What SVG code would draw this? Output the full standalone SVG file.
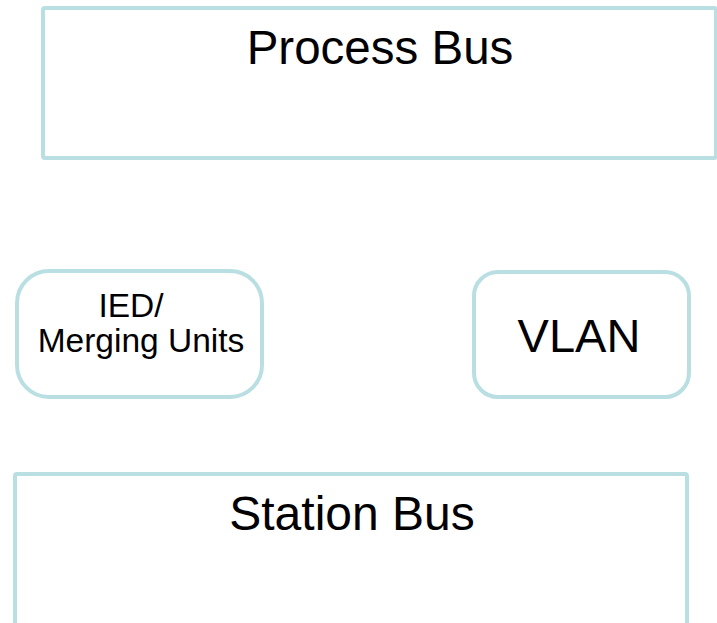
<svg xmlns="http://www.w3.org/2000/svg" width="717" height="623" viewBox="0 0 717 623">
<style>
.box{fill:#ffffff;stroke:#b9dfe2;stroke-width:4}
.t{font-family:"Liberation Sans",Arial,sans-serif;fill:#000000;text-anchor:middle}
</style>
<rect width="717" height="623" fill="#ffffff"/>
<g id="process-bus">
<rect class="box" x="43" y="8" width="673" height="150" rx="2"/>
<text class="t" x="380" y="64" font-size="47.5">Process Bus</text>
</g>
<g id="ied">
<rect class="box" x="17" y="271" width="245" height="126" rx="32"/>
<text class="t" font-size="33.5"><tspan x="131" y="317">IED/</tspan><tspan x="141" y="352">Merging Units</tspan></text>
</g>
<g id="vlan">
<rect class="box" x="474" y="272" width="215" height="125" rx="24"/>
<text class="t" x="579" y="352" font-size="47">VLAN</text>
</g>
<g id="station-bus">
<rect class="box" x="15" y="474" width="672" height="160" rx="2"/>
<text class="t" x="352" y="530" font-size="48">Station Bus</text>
</g>
<g id="connectors"></g>
</svg>
